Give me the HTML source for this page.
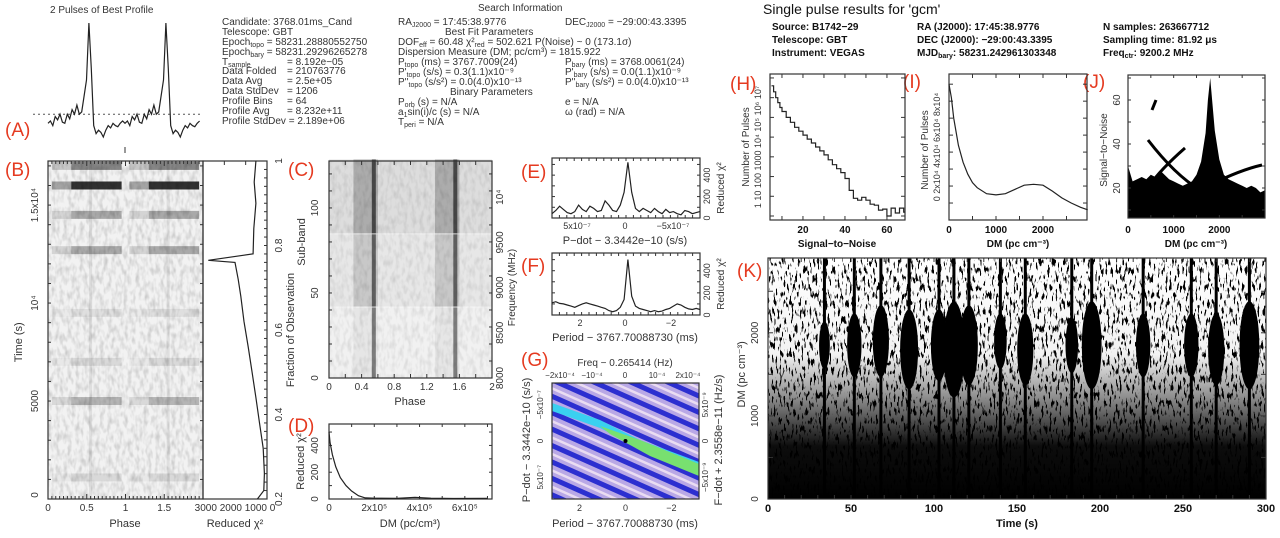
<!DOCTYPE html>
<html><head><meta charset="utf-8">
<style>
html,body{margin:0;padding:0;background:#fff;}
svg{display:block;font-family:"Liberation Sans",sans-serif;}
.t{font-size:10px;fill:#333;}
.tb{font-size:10px;fill:#111;font-weight:bold;}
.lab{font-size:19px;fill:#e53a20;}
.ax{fill:none;stroke:#333;stroke-width:1.2;}
.ln{fill:none;stroke:#222;stroke-width:1.2;}
</style></head>
<body>
<svg id="fig" width="1280" height="538" viewBox="0 0 1280 538" xmlns="http://www.w3.org/2000/svg">
<defs>
  <filter id="speck" x="0" y="0" width="100%" height="100%">
    <feTurbulence type="fractalNoise" baseFrequency="0.5 0.12" numOctaves="2" seed="7" result="n"/>
    <feColorMatrix type="matrix" values="0 0 0 0 0  0 0 0 0 0  0 0 0 0 0  -14 0 0 0 6" in="n"/>
  </filter>
  <filter id="gspeck" x="0" y="0" width="100%" height="100%">
    <feTurbulence type="fractalNoise" baseFrequency="0.25 0.12" numOctaves="2" seed="3" result="n"/>
    <feColorMatrix type="matrix" values="0 0 0 0 0  0 0 0 0 0  0 0 0 0 0  0.35 0 0 0 -0.14" in="n"/>
  </filter>
  <pattern id="gstripe" width="160" height="15" patternUnits="userSpaceOnUse" patternTransform="rotate(24)">
    <rect width="160" height="15" fill="#b9a8e6"/>
    <rect y="0" width="160" height="5" fill="#2c2fd0"/>
    <rect y="9" width="160" height="2.5" fill="#eadcf2"/>
  </pattern>
  <clipPath id="clipK"><rect x="768" y="258" width="498" height="241"/></clipPath>
  <clipPath id="clipG"><rect x="552" y="383" width="147" height="116"/></clipPath>
  <clipPath id="clipJ"><rect x="1128" y="75" width="137" height="143"/></clipPath>
</defs>

<g>
<text class="t" x="50" y="13" font-size="11">2 Pulses of Best Profile</text>
<text class="t" x="478" y="11" font-size="11">Search Information</text>
<g class="t">
<text x="222" y="25">Candidate:  3768.01ms_Cand</text>
<text x="222" y="35">Telescope:  GBT</text>
<text x="222" y="45">Epoch<tspan font-size="7" dy="2">topo</tspan><tspan dy="-2"> = 58231.28880552750</tspan></text>
<text x="222" y="55">Epoch<tspan font-size="7" dy="2">bary</tspan><tspan dy="-2"> = 58231.29296265278</tspan></text>
<text x="222" y="65">T<tspan font-size="7" dy="2">sample</tspan><tspan x="287" dy="-2">=   8.192e−05</tspan></text>
<text x="222" y="74">Data Folded<tspan x="287">=   210763776</tspan></text>
<text x="222" y="84">Data Avg<tspan x="287">=   2.5e+05</tspan></text>
<text x="222" y="94">Data StdDev<tspan x="287">=   1206</tspan></text>
<text x="222" y="104">Profile Bins<tspan x="287">=   64</tspan></text>
<text x="222" y="114">Profile Avg<tspan x="287">=   8.232e+11</tspan></text>
<text x="222" y="124">Profile StdDev =   2.189e+06</text>

<text x="398" y="25">RA<tspan font-size="7" dy="2">J2000</tspan><tspan dy="-2"> = 17:45:38.9776</tspan></text>
<text x="565" y="25">DEC<tspan font-size="7" dy="2">J2000</tspan><tspan dy="-2"> = −29:00:43.3395</tspan></text>
<text x="445" y="35">Best Fit Parameters</text>
<text x="398" y="45">DOF<tspan font-size="7" dy="2">eff</tspan><tspan dy="-2"> = 60.48  χ²</tspan><tspan font-size="7" dy="2">red</tspan><tspan dy="-2"> = 502.621   P(Noise) ~ 0    (173.1σ)</tspan></text>
<text x="398" y="55">Dispersion Measure (DM; pc/cm³) = 1815.922</text>
<text x="398" y="65">P<tspan font-size="7" dy="2">topo</tspan><tspan dy="-2"> (ms) =  3767.7009(24)</tspan></text>
<text x="565" y="65">P<tspan font-size="7" dy="2">bary</tspan><tspan dy="-2"> (ms) =  3768.0061(24)</tspan></text>
<text x="398" y="75">P'<tspan font-size="7" dy="2">topo</tspan><tspan dy="-2"> (s/s) =  0.3(1.1)x10⁻⁹</tspan></text>
<text x="565" y="75">P'<tspan font-size="7" dy="2">bary</tspan><tspan dy="-2"> (s/s) = 0.0(1.1)x10⁻⁹</tspan></text>
<text x="398" y="85">P''<tspan font-size="7" dy="2">topo</tspan><tspan dy="-2"> (s/s²) = 0.0(4.0)x10⁻¹³</tspan></text>
<text x="565" y="85">P''<tspan font-size="7" dy="2">bary</tspan><tspan dy="-2"> (s/s²) = 0.0(4.0)x10⁻¹³</tspan></text>
<text x="450" y="95">Binary Parameters</text>
<text x="398" y="105">P<tspan font-size="7" dy="2">orb</tspan><tspan dy="-2"> (s) = N/A</tspan></text>
<text x="565" y="105">e = N/A</text>
<text x="398" y="115">a<tspan font-size="7" dy="2">1</tspan><tspan dy="-2">sin(i)/c (s) = N/A</tspan></text>
<text x="565" y="115">ω (rad) = N/A</text>
<text x="398" y="125">T<tspan font-size="7" dy="2">peri</tspan><tspan dy="-2"> = N/A</tspan></text>
</g>
</g>

<g>
<text x="763" y="14" font-size="14" fill="#111">Single pulse results for 'gcm'</text>
<g class="tb">
<text x="772" y="30">Source: B1742−29</text>
<text x="772" y="43">Telescope: GBT</text>
<text x="772" y="56">Instrument: VEGAS</text>
<text x="917" y="30">RA (J2000):       17:45:38.9776</text>
<text x="917" y="43">DEC (J2000):     −29:00:43.3395</text>
<text x="917" y="56">MJD<tspan font-size="7" dy="2">bary</tspan><tspan dy="-2">: 58231.242961303348</tspan></text>
<text x="1103" y="30">N samples: 263667712</text>
<text x="1103" y="43">Sampling time: 81.92 μs</text>
<text x="1103" y="56">Freq<tspan font-size="7" dy="2">ctr</tspan><tspan dy="-2">: 9200.2 MHz</tspan></text>
</g>
</g>

<g>
<text class="lab" x="5" y="136">(A)</text>
<text class="lab" x="5" y="176">(B)</text>
<text class="lab" x="288" y="176">(C)</text>
<text class="lab" x="288" y="432">(D)</text>
<text class="lab" x="521" y="178">(E)</text>
<text class="lab" x="521" y="272">(F)</text>
<text class="lab" x="521" y="366">(G)</text>
<text class="lab" x="730" y="90">(H)</text>
<text class="lab" x="903" y="88">(I)</text>
<text class="lab" x="1083" y="88">(J)</text>
<text class="lab" x="737" y="277">(K)</text>
</g>

<g id="layer"></g>
</svg>

<script>
// ---------- DATA ----------
const profileBins = [0.12,0.14,0.10,0.18,0.15,0.20,0.13,0.12,0.20,0.16,0.24,0.20,0.28,0.20,0.22,0.36,0.50,1.00,0.60,0.10,0.03,0.06,0.04,0.00,0.06,0.10,0.08,0.12,0.10,0.09,0.12,0.14];
const bFraction = [0.2,0.22,0.26,0.32,0.38,0.44,0.5,0.56,0.62,0.68,0.72,0.76,0.765,0.78,0.84,0.9,0.95,1.0];
const bChi2 =     [450,150,120,180,350,520,700,880,1080,1230,1350,1500,2750,650,620,520,600,520];
const bBandTimes = [17000,16000,14500,12700,5000,9500,7000,1100];
const bBandLevel = [0.45,0.8,0.3,0.3,0.25,0.08,0.1,0.1];
const cBlockStart = [0,42,85];
const cBlockEnd = [41,84,128];
const cBlockShade = [0.04,0.12,0.2];
const dDM = [0,5000,15000,30000,50000,75000,100000,130000,160000,200000,300000,380000,450000,550000,700000];
const dChi2 = [500,420,330,240,160,100,60,25,8,6,5,12,6,4,5];
const eChi2 = [40,70,110,80,50,40,60,120,80,60,110,90,60,70,160,120,70,60,120,240,520,240,90,60,90,70,50,90,60,40,80,50,60,40,30,70,60,40,50,60];
const fChi2 = [110,120,105,100,90,80,70,85,100,110,100,90,80,70,60,40,30,40,70,140,500,170,80,60,50,40,30,40,30,35,50,60,80,100,90,70,55,50,60,50];
const hSNR = [5,6,7,8,9,10,12,14,16,18,20,22,24,26,28,30,32,34,36,38,40,42,44,46,48,50,52,54,56,58,60,62,64,66,68];
const hLogCount = [6.6,6.3,6.0,5.75,5.5,5.3,5.0,4.75,4.5,4.3,4.1,3.9,3.7,3.5,3.3,3.1,2.85,2.6,2.4,2.2,1.9,1.3,0.9,0.8,0.95,0.8,0.6,0.55,0.3,0.35,0.0,0.4,0.15,0.4,0.2];
const iDM = [0,50,100,200,300,400,500,600,800,1000,1200,1400,1600,1800,2000,2200,2400,2600,2800,2950];
const iCount = [80000,72000,60000,44000,34000,27000,22000,19000,15500,14800,15500,18000,20500,21000,20500,17000,13000,10000,7500,6000];
const jDM = [0,100,200,300,400,500,600,700,800,900,1000,1100,1200,1300,1400,1500,1600,1700,1750,1800,1850,1900,2000,2100,2200,2300,2400,2500,2600,2700,2800,2900,3000];
const jSNR = [30,23,24,25,24,26,25,28,26,24,23,22,21,22,23,26,32,45,60,70,58,46,33,26,24,23,22,21,20,21,20,18,19];
const kBlobTimes = [34,52,68,85,103,112,121,140,155,183,195,226,255,270,290];
const kBlobDM = [1850,1850,1900,1800,1850,1800,1850,1900,1800,1850,1850,1850,1850,1800,1850];
const kBlobSize = [0.6,0.8,0.9,1.0,0.9,1.2,1.0,0.7,0.9,0.7,1.1,0.8,0.8,0.9,1.1];

// ---------- helpers ----------
const NS='http://www.w3.org/2000/svg';
const layer=document.getElementById('layer');
function mk(tag,attrs,parent){const e=document.createElementNS(NS,tag);for(const k in attrs)e.setAttribute(k,attrs[k]);(parent||layer).appendChild(e);return e;}
function lin(d0,d1,r0,r1){return v=>r0+(v-d0)/(d1-d0)*(r1-r0);}
function txt(x,y,s,opt,parent){const t=mk('text',Object.assign({x:x,y:y,'font-size':10,fill:'#333','text-anchor':'middle'},opt||{}),parent);t.textContent=s;return t;}
function rtxt(x,y,s,parent,size){const t=mk('text',{x:0,y:0,'font-size':size||10,fill:'#333','text-anchor':'middle',transform:'translate('+x+','+y+') rotate(-90)'},parent);t.textContent=s;return t;}
function box(x0,y0,x1,y1,parent){return mk('rect',{x:x0,y:y0,width:x1-x0,height:y1-y0,class:'ax'},parent);}
function ticksX(sx,vals,y0,y1,len,parent){vals.forEach(v=>{mk('line',{x1:sx(v),x2:sx(v),y1:y1,y2:y1-len,stroke:'#333','stroke-width':1},parent);mk('line',{x1:sx(v),x2:sx(v),y1:y0,y2:y0+len,stroke:'#333','stroke-width':1},parent);});}
function ticksY(sy,vals,x0,x1,len,parent){vals.forEach(v=>{mk('line',{y1:sy(v),y2:sy(v),x1:x0,x2:x0+len,stroke:'#333','stroke-width':1},parent);mk('line',{y1:sy(v),y2:sy(v),x1:x1,x2:x1-len,stroke:'#333','stroke-width':1},parent);});}
function poly(xs,ys,parent,cls){let d='';xs.forEach((x,i)=>d+=(i?'L':'M')+x.toFixed(1)+','+ys[i].toFixed(1));return mk('path',{d:d,class:cls||'ln'},parent);}
function grp(name){const g=mk('g',{});return g;}

// ---------- (A) ----------
(function(){
 const g=grp('pulse-profile-chart');
 const sx=lin(0,2,48,202), sy=lin(0,1,137,23);
 mk('line',{x1:33,x2:202,y1:sy(0.2),y2:sy(0.2),stroke:'#555','stroke-dasharray':'2,3'},g);
 const xs=[],ys=[];
 for(let r=0;r<2;r++)profileBins.forEach((v,i)=>{xs.push(sx(r+i/profileBins.length));ys.push(sy(v));});
 const p=poly(xs,ys,g);
})();

// ---------- (B) ----------
(function(){
 const g=grp('phase-time-chart');
 const x0=48,x1=203,y0=161,y1=499;
 const sx=lin(0,2,x0,x1), sy=lin(0,17250,y1,y0);
 mk('rect',{x:x0,y:y0,width:x1-x0,height:y1-y0,fill:'#f2f2f2'},g);
 mk('rect',{x:x0,y:y0,width:x1-x0,height:y1-y0,filter:'url(#gspeck)',fill:'#000'},g);
 bBandTimes.forEach((t,i)=>{
   const lv=bBandLevel[i];
   [[0.3,0.95],[1.3,1.95],[0.05,0.3],[1.05,1.3]].forEach((r,j)=>{
     const b=mk('rect',{x:sx(r[0]),y:sy(t)-4,width:sx(r[1])-sx(r[0]),height:8,fill:'#000',opacity:(j<2?lv:lv*0.4)},g);
     
     
   });
 });
 [0.55,1.55].forEach(ph=>mk('rect',{x:sx(ph)-1.5,y:y0,width:3,height:y1-y0,fill:'#000',opacity:0.08},g));
 box(x0,y0,x1,y1,g);
 const tk=[];for(let i=0;i<=40;i++)tk.push(i*0.05);
 tk.forEach((v,i)=>{const L=(i%10==0?5:3);mk('line',{x1:sx(v),x2:sx(v),y1:y1,y2:y1-L,stroke:'#333'},g);mk('line',{x1:sx(v),x2:sx(v),y1:y0,y2:y0+L,stroke:'#333'},g);});
 [0,0.5,1,1.5].forEach(v=>txt(sx(v),511,String(v),{},g));
 txt(125,527,'Phase',{'font-size':11},g);
 ticksY(sy,[0,1000,2000,3000,4000,5000,6000,7000,8000,9000,10000,11000,12000,13000,14000,15000,16000,17000],x0,x1,3,g);
 rtxt(38,y1-4,'0',g);rtxt(38,sy(5000),'5000',g);rtxt(38,sy(10000),'10⁴',g);rtxt(38,sy(15000),'1.5x10⁴',g);
 rtxt(22,sy(8000),'Time (s)',g,11);
 mk('line',{x1:125,x2:125,y1:147,y2:153,stroke:'#333'},g);
 const s2=grp('reduced-chi2-vs-time');
 const cx=lin(3000,0,203,267), fy=lin(0.2,1,y1,y0);
 box(203,y0,267,y1,s2);
 const fr=[];for(let i=0;i<=40;i++)fr.push(0.2+i*0.02);
 fr.forEach(v=>mk('line',{x1:267,x2:264,y1:fy(v),y2:fy(v),stroke:'#333'},s2));
 [0,1000,2000].forEach(v=>mk('line',{x1:cx(v),x2:cx(v),y1:y0,y2:y0+4,stroke:'#333'},s2));
 poly(bChi2.map(cx),bFraction.map(fy),s2);
 txt(235,511,'3000 2000 1000  0',{'font-size':10,'text-anchor':'middle'},s2);
 txt(235,527,'Reduced χ²',{'font-size':11},s2);
 [0.2,0.4,0.6,0.8,1].forEach(v=>rtxt(282,fy(v),String(v),s2));
 rtxt(294,fy(0.6),'Fraction of Observation',s2,11);
})();

// ---------- (C) ----------
(function(){
 const g=grp('subband-chart');
 const x0=329,x1=492,y0=161,y1=378;
 const sx=lin(0,2,x0,x1), sy=lin(0,127.6,y1,y0);
 mk('rect',{x:x0,y:y0,width:x1-x0,height:y1-y0,fill:'#f6f6f6'},g);
 cBlockStart.forEach((s,i)=>{
   const e=cBlockEnd[i], sh=cBlockShade[i];
   const top=sy(e+0.5), bot=sy(s);
   mk('rect',{x:x0,y:top,width:x1-x0,height:bot-top,fill:'#000',opacity:sh*0.5},g);
   [[0.3,0.6],[1.3,1.6]].forEach(r=>{const b=mk('rect',{x:sx(r[0]),y:top,width:sx(r[1])-sx(r[0]),height:bot-top,fill:'#000',opacity:sh*1.1},g);});
   [0.55,1.55].forEach(p=>mk('rect',{x:sx(p)-2,y:top,width:4,height:bot-top,fill:'#111',opacity:0.45+sh},g));
 });
 mk('rect',{x:x0,y:y0,width:x1-x0,height:y1-y0,filter:'url(#gspeck)',fill:'#000',opacity:0.6},g);
 box(x0,y0,x1,y1,g);
 ticksX(sx,[0,0.2,0.4,0.6,0.8,1,1.2,1.4,1.6,1.8,2],y0,y1,4,g);
 [0,0.4,0.8,1.2,1.6,2].forEach(v=>txt(sx(v),390,String(v),{},g));
 txt(410,405,'Phase',{'font-size':11},g);
 ticksY(sy,[0,10,20,30,40,50,60,70,80,90,100,110,120],x0,x1,3,g);
 [0,50,100].forEach(v=>rtxt(318,sy(v),String(v),g));
 rtxt(305,sy(80),'Sub-band',g,11);
 const fz=lin(8000,10400,y1,y0);
 [8000,8500,9000,9500].forEach(v=>rtxt(503,fz(v),String(v),g));
 rtxt(503,fz(10000),'10⁴',g);
 rtxt(515,fz(9000),'Frequency (MHz)',g,10);
})();

// ---------- (D) ----------
(function(){
 const g=grp('dm-chi2-chart');
 const x0=329,x1=492,y0=424,y1=499;
 const sx=lin(0,720000,x0,x1), sy=lin(0,560,y1,y0);
 box(x0,y0,x1,y1,g);
 ticksX(sx,[0,100000,200000,300000,400000,500000,600000,700000],y0,y1,3,g);
 ticksY(sy,[0,100,200,300,400,500],x0,x1,3,g);
 poly(dDM.map(sx),dChi2.map(sy),g);
 txt(sx(0),511,'0',{},g);txt(sx(200000),511,'2x10⁵',{},g);txt(sx(400000),511,'4x10⁵',{},g);txt(sx(600000),511,'6x10⁵',{},g);
 txt(410,527,'DM (pc/cm³)',{'font-size':11},g);
 [0,200,400].forEach(v=>rtxt(318,sy(v),String(v),g));
 rtxt(304,sy(280),'Reduced χ²',g,11);
})();

// ---------- (E),(F) ----------
function curvePanel(name,vals,y0,y1,xl,labels){
 const g=grp(name);
 const x0=552,x1=700;
 const sx=lin(0,vals.length-1,x0,x1), sy=lin(0,560,y1,y0);
 box(x0,y0,x1,y1,g);
 const tk=[];for(let i=0;i<=20;i++)tk.push(i*(vals.length-1)/20);
 ticksX(sx,tk,y0,y1,3,g);
 ticksY(sy,[0,100,200,300,400,500],x0,x1,3,g);
 poly(vals.map((v,i)=>sx(i)),vals.map(sy),g);
 labels.forEach(l=>txt(l[0],y1+11,l[1],{'font-size':9},g));
 txt(625,y1+26,xl,{'font-size':11},g);
 [0,200,400].forEach(v=>rtxt(710,sy(v),String(v),g,9));
 rtxt(724,(y0+y1)/2,'Reduced χ²',g,10);
}
curvePanel('pdot-chi2-chart',eChi2,158,218,'P−dot − 3.3442e−10 (s/s)',[[577,'5x10⁻⁷'],[625,'0'],[673,'−5x10⁻⁷']]);
curvePanel('period-chi2-chart',fChi2,253,315,'Period − 3767.70088730 (ms)',[[580,'2'],[625,'0'],[671,'−2']]);

// ---------- (G) ----------
(function(){
 const g=grp('period-pdot-map');
 const x0=552,x1=699,y0=383,y1=499;
 const sx=lin(3.2,-3.2,x0,x1), sy=lin(-8,8,y0,y1);
 const cg=mk('g',{'clip-path':'url(#clipG)'},g);
 mk('rect',{x:x0,y:y0,width:x1-x0,height:y1-y0,fill:'url(#gstripe)'},cg);
 mk('path',{d:'M552,403 L600,420 L640,440 L699,462 L699,470 L640,448 L600,428 L552,411Z',fill:'#3ad0f0'},cg);
 mk('path',{d:'M600,426 L640,440 L699,464 L699,476 L650,456 L610,434Z',fill:'#78e070'},cg);
 mk('circle',{cx:sx(0),cy:sy(0),r:2,fill:'#000'},cg);
 box(x0,y0,x1,y1,g);
 txt(625,366,'Freq − 0.265414 (Hz)',{'font-size':10},g);
 [[560,'−2x10⁻⁴'],[592,'−10⁻⁴'],[625,'0'],[657,'10⁻⁴'],[688,'2x10⁻⁴']].forEach(l=>txt(l[0],378,l[1],{'font-size':8},g));
 [[2,'2'],[0,'0'],[-2,'−2']].forEach(l=>txt(sx(l[0]),511,l[1],{'font-size':9},g));
 txt(625,527,'Period − 3767.70088730 (ms)',{'font-size':11},g);
 [[-5,'−5x10⁻⁷'],[0,'0'],[5,'5x10⁻⁷']].forEach(l=>rtxt(543,sy(l[0]),l[1],g,8));
 rtxt(530,440,'P−dot − 3.3442e−10 (s/s)',g,11);
 [[-5,'5x10⁻⁹'],[0,'0'],[5,'−5x10⁻⁹']].forEach(l=>rtxt(708,sy(l[0]),l[1],g,8));
 rtxt(722,440,'F−dot + 2.3558e−11 (Hz/s)',g,11);
})();

// ---------- (H) ----------
(function(){
 const g=grp('snr-histogram');
 const x0=770,x1=905,y0=74,y1=220;
 const sx=lin(4.3,68.6,x0,x1), sy=lin(0,7.2,y1-4,y0);
 box(x0,y0,x1,y1,g);
 ticksX(sx,[10,20,30,40,50,60],y0,y1,4,g);
 ticksY(sy,[0,1,2,3,4,5,6,7],x0,x1,4,g);
 let d='';
 hSNR.forEach((s,i)=>{const xa=sx(s),xb=sx(i<hSNR.length-1?hSNR[i+1]:68.6),y=sy(hLogCount[i]);d+=(i?'L':'M')+xa.toFixed(1)+','+y.toFixed(1)+'L'+xb.toFixed(1)+','+y.toFixed(1);});
 const p=mk('path',{d:d,class:'ln'},g);
 [20,40,60].forEach(v=>txt(sx(v),233,String(v),{'font-size':10,'font-weight':'bold',fill:'#111'},g));
 txt(837,247,'Signal−to−Noise',{'font-size':10,'font-weight':'bold',fill:'#111'},g);
 rtxt(761,147,'1  10  100 1000 10⁴ 10⁵ 10⁶ 10⁷',g,9);
 rtxt(749,147,'Number of Pulses',g,10);
})();

// ---------- (I) ----------
(function(){
 const g=grp('dm-pulse-count-chart');
 const x0=949,x1=1087,y0=74,y1=220;
 const sx=lin(0,2936,x0,x1), sy=lin(0,86000,y1,y0);
 box(x0,y0,x1,y1,g);
 ticksX(sx,[500,1000,1500,2000,2500],y0,y1,4,g);
 ticksY(sy,[10000,20000,30000,40000,50000,60000,70000,80000],x0,x1,4,g);
 poly(iDM.map(sx),iCount.map(sy),g);
 [[0,'0'],[1000,'1000'],[2000,'2000']].forEach(l=>txt(sx(l[0]),233,l[1],{'font-size':10,'font-weight':'bold',fill:'#111'},g));
 txt(1018,247,'DM (pc cm⁻³)',{'font-size':10,'font-weight':'bold',fill:'#111'},g);
 rtxt(940,147,'0  2x10⁴ 4x10⁴ 6x10⁴ 8x10⁴',g,9);
 rtxt(928,150,'Number of Pulses',g,10);
})();

// ---------- (J) ----------
(function(){
 const g=grp('dm-snr-scatter');
 const x0=1128,x1=1265,y0=75,y1=218;
 const sx=lin(0,3000,x0,x1), sy=lin(20,60,188,100);
 const cg=mk('g',{'clip-path':'url(#clipJ)'},g);
 let d='M'+sx(0)+','+y1;
 jDM.forEach((m,i)=>d+='L'+sx(m).toFixed(1)+','+sy(jSNR[i]).toFixed(1));
 d+='L'+sx(3000)+','+y1+'Z';
 const p=mk('path',{d:d,fill:'#000'},cg);
 mk('path',{d:'M1148,140 Q1175,175 1200,190',fill:'none',stroke:'#000','stroke-width':3},cg);
 mk('path',{d:'M1185,148 Q1160,170 1150,185',fill:'none',stroke:'#000','stroke-width':3},cg);
 mk('path',{d:'M1210,185 Q1240,170 1262,165',fill:'none',stroke:'#000','stroke-width':3},cg);
 mk('path',{d:'M1152,110 L1156,100',fill:'none',stroke:'#000','stroke-width':3},cg);
 box(x0,y0,x1,y1,g);
 ticksX(sx,[500,1000,1500,2000,2500],y0,y1,3,g);
 ticksY(sy,[10,20,30,40,50,60,70],x0,x1,3,g);
 [[0,'0'],[1000,'1000'],[2000,'2000']].forEach(l=>txt(sx(l[0]),233,l[1],{'font-size':10,'font-weight':'bold',fill:'#111'},g));
 txt(1196,247,'DM (pc cm⁻³)',{'font-size':10,'font-weight':'bold',fill:'#111'},g);
 [20,40,60].forEach(v=>rtxt(1120,sy(v),String(v),g,10));
 rtxt(1107,150,'Signal−to−Noise',g,10);
})();

// ---------- (K) ----------
(function(){
 const g=grp('time-dm-scatter');
 const x0=768,x1=1266,y0=258,y1=499;
 const sx=lin(0,300,x0,x1), sy=lin(0,2900,y1,y0);
 const cg=mk('g',{'clip-path':'url(#clipK)'},g);
 mk('rect',{x:x0,y:y0,width:x1-x0,height:y1-y0,fill:'#fff'},cg);
 mk('rect',{x:x0,y:y0,width:x1-x0,height:y1-y0,filter:'url(#speck)',fill:'#000'},cg);
 const lg=mk('linearGradient',{id:'kfade',x1:0,y1:1,x2:0,y2:0},cg);
 mk('stop',{offset:0,'stop-color':'#000','stop-opacity':1},lg);
 mk('stop',{offset:0.22,'stop-color':'#000','stop-opacity':0.95},lg);
 mk('stop',{offset:0.42,'stop-color':'#000','stop-opacity':0.45},lg);
 mk('stop',{offset:0.6,'stop-color':'#000','stop-opacity':0.05},lg);
 mk('stop',{offset:1,'stop-color':'#000','stop-opacity':0},lg);
 mk('rect',{x:x0,y:y0,width:x1-x0,height:y1-y0,fill:'url(#kfade)'},cg);
 kBlobTimes.forEach((t,i)=>{
   const s=kBlobSize[i];
   const e=mk('ellipse',{cx:sx(t),cy:sy(kBlobDM[i]),rx:9*s,ry:40*s,fill:'#000'},cg);
   
   
   mk('rect',{x:sx(t)-1.5,y:y0,width:3,height:y1-y0,fill:'#000'},cg);
 });
 box(x0,y0,x1,y1,g);
 const tk=[];for(let i=0;i<=30;i++)tk.push(i*10);
 ticksX(sx,tk,y0,y1,4,g);
 ticksY(sy,[0,500,1000,1500,2000,2500],x0,x1,5,g);
 [0,50,100,150,200,250,300].forEach(v=>txt(sx(v),512,String(v),{'font-size':11,'font-weight':'bold',fill:'#111'},g));
 txt(1017,527,'Time (s)',{'font-size':11,'font-weight':'bold',fill:'#111'},g);
 [0,1000,2000].forEach(v=>rtxt(758,sy(v),String(v),g,10));
 rtxt(745,sy(1500),'DM (pc cm⁻³)',g,11);
})();
</script>
</body></html>
